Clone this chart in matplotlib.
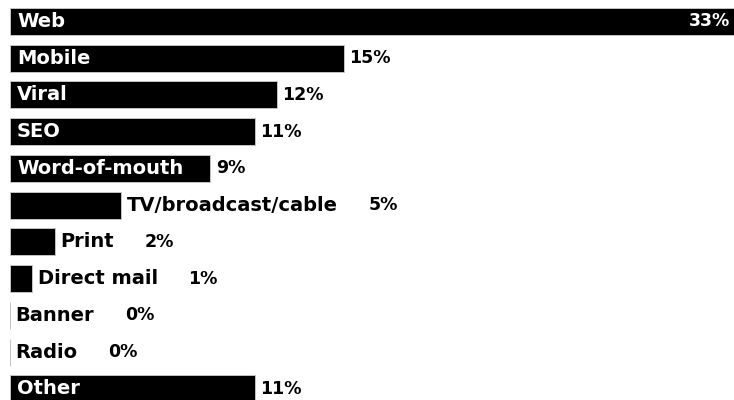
import matplotlib
matplotlib.use('Agg')
import matplotlib.pyplot as plt

# Share of responses per channel (%)
channels = ['Web', 'Mobile', 'Viral', 'SEO', 'Word-of-mouth', 'TV/broadcast/cable',
            'Print', 'Direct mail', 'Banner', 'Radio', 'Other']
shares = [33, 15, 12, 11, 9, 5, 2, 1, 0, 0, 11]

W, H = 734, 400
fig = plt.figure(figsize=(W / 100, H / 100), dpi=100)
ax = fig.add_axes([10 / W, 0, 1 - 10 / W, 1])
ax.set_xlim(0, 724 / 22.25)
ax.set_ylim(10.3, -0.585)
ax.axis('off')

rows = list(range(len(channels)))
ax.barh(rows, shares, height=0.735, color='black', edgecolor='#c4c4c4', linewidth=0.7)

fig.canvas.draw()
renderer = fig.canvas.get_renderer()
px_per_unit = ax.transData.transform((1, 0))[0] - ax.transData.transform((0, 0))[0]
font = dict(family='DejaVu Sans', fontweight='bold')

for i, (name, val) in enumerate(zip(channels, shares)):
    bar_px = val * px_per_unit
    lab = ax.annotate(name, xy=(0, i), xytext=(5, 0), textcoords='offset points',
                      va='center', ha='left', color='white', fontsize=14, **font)
    w = lab.get_window_extent(renderer).width
    if w + 10 < bar_px:
        # label fits inside the bar
        if val >= ax.get_xlim()[1]:
            ax.annotate(f'{val}%', xy=(1, i), xycoords=('axes fraction', 'data'),
                        xytext=(-3, 0), textcoords='offset points', va='center',
                        ha='right', color='white', fontsize=12.5, **font)
        else:
            ax.annotate(f'{val}%', xy=(val, i), xytext=(4, 0), textcoords='offset points',
                        va='center', ha='left', color='black', fontsize=12.5, **font)
    else:
        lab.remove()
        lab = ax.annotate(name, xy=(val, i), xytext=(4, 0), textcoords='offset points',
                          va='center', ha='left', color='black', fontsize=14, **font)
        ax.annotate(f'{val}%', xy=(1, 0.5), xycoords=lab, xytext=(22, 0),
                    textcoords='offset points', va='center', ha='left',
                    color='black', fontsize=12.5, **font)

fig.savefig('out.png', dpi=100, facecolor='white')
